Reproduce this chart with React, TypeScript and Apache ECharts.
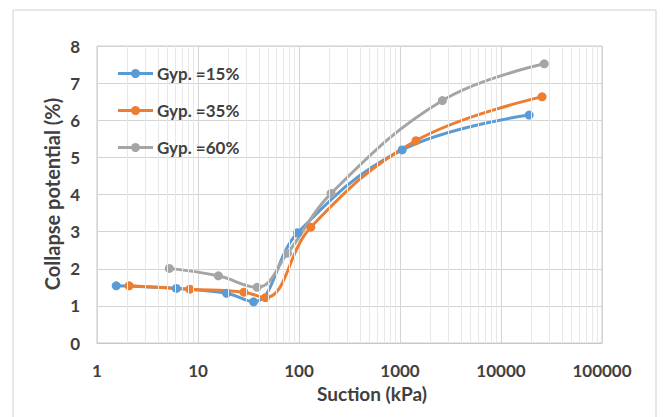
import React, { useEffect, useRef } from "react";
import * as echarts from "echarts";

const seriesNames = ["Gyp. =15%", "Gyp. =35%", "Gyp. =60%"];
const seriesColors = ["#5B9BD5", "#ED7D31", "#A5A5A5"];

const gyp15X = [1.55, 6.1, 19.2, 35.5, 97, 1050, 19000];
const gyp15Y = [1.54, 1.47, 1.34, 1.11, 2.97, 5.2, 6.14];
const gyp35X = [2.08, 8.3, 28.5, 46.5, 131, 1440, 25500];
const gyp35Y = [1.54, 1.45, 1.37, 1.22, 3.12, 5.45, 6.63];
const gyp60X = [5.2, 15.9, 38.5, 77, 208, 2630, 26800];
const gyp60Y = [2.01, 1.81, 1.5, 2.42, 4.03, 6.53, 7.52];

const xsAll = [gyp15X, gyp35X, gyp60X];
const ysAll = [gyp15Y, gyp35Y, gyp60Y];

const minorX: number[] = [];
for (let d = 1; d < 100000; d *= 10) {
  for (let m = 2; m <= 9; m++) minorX.push(m * d);
}

export default function App() {
  const ref = useRef<HTMLDivElement>(null);
  useEffect(() => {
    if (!ref.current) return;
    const chart = echarts.init(ref.current, null, { renderer: "svg" });
    const txt = "#404040";
    const font = "Lato, 'Open Sans', sans-serif";
    const lineSeries = seriesNames.map((name, i) => ({
      name,
      type: "line",
      data: xsAll[i].map((x, j) => [x, ysAll[i][j]]),
      smooth: 0.4,
      symbol: "circle",
      symbolSize: 9,
      showSymbol: true,
      z: 3,
      lineStyle: { color: seriesColors[i], width: 3, type: "solid" },
      itemStyle: { color: seriesColors[i] },
    }));
    const legendGraphics: any[] = [];
    seriesNames.forEach((name, i) => {
      const cy = 73.5 + i * 37;
      legendGraphics.push(
        {
          type: "line",
          z: 10,
          shape: { x1: 118, y1: cy, x2: 153, y2: cy },
          style: { stroke: seriesColors[i], lineWidth: 3 },
          silent: true,
        },
        {
          type: "circle",
          z: 11,
          shape: { cx: 135.5, cy, r: 4.5 },
          style: { fill: seriesColors[i] },
          silent: true,
        },
        {
          type: "text",
          z: 11,
          x: 157,
          y: cy,
          style: {
            text: name,
            fontSize: 17,
            fontWeight: "bold",
            fill: txt,
            fontFamily: font,
            textAlign: "left",
            textVerticalAlign: "middle",
          },
        }
      );
    });
    const option: any = {
      animation: false,
      backgroundColor: "#ffffff",
      grid: {
        left: 97,
        top: 46,
        right: 61,
        bottom: 74,
        show: true,
        borderColor: "#c8c8c8",
        borderWidth: 1,
        containLabel: false,
        outerBoundsMode: "none",
      },
      xAxis: {
        type: "log",
        logBase: 10,
        min: 1,
        max: 100000,
        axisLine: { show: true, lineStyle: { color: "#c8c8c8" } },
        axisTick: { show: false },
        splitLine: { show: true, lineStyle: { color: "#d4d4d4", width: 1 } },
        axisLabel: {
          margin: 19,
          fontSize: 17,
          fontWeight: "bold",
          color: txt,
          fontFamily: font,
          formatter: (v: number) => String(Math.round(v)),
        },
      },
      yAxis: {
        type: "value",
        min: 0,
        max: 8,
        interval: 1,
        axisLine: { show: false },
        axisTick: { show: false },
        splitLine: { show: true, lineStyle: { color: "#d4d4d4", width: 1 } },
        axisLabel: {
          margin: 17,
          fontSize: 17,
          fontWeight: "bold",
          color: txt,
          fontFamily: font,
        },
      },
      graphic: [
        {
          type: "rect",
          shape: { x: 13, y: 10, width: 643, height: 430 },
          style: { fill: "none", stroke: "#d0d0d0", lineWidth: 1 },
          silent: true,
          z: -1,
        },
        {
          type: "text",
          x: 372,
          y: 393,
          style: {
            text: "Suction (kPa)",
            fontSize: 19,
            fontWeight: "bold",
            fill: txt,
            fontFamily: font,
            textAlign: "center",
            textVerticalAlign: "middle",
          },
        },
        {
          type: "text",
          x: 52,
          y: 194,
          rotation: Math.PI / 2,
          style: {
            text: "Collapse potential (%)",
            fontSize: 20,
            fontWeight: "bold",
            fill: txt,
            fontFamily: font,
            textAlign: "center",
            textVerticalAlign: "middle",
          },
        },
        ...legendGraphics,
      ],
      series: [
        {
          name: "_minor",
          type: "line",
          data: [],
          z: 1,
          silent: true,
          markLine: {
            silent: true,
            symbol: "none",
            label: { show: false },
            lineStyle: { color: "#e8e8e8", width: 1, type: "solid" },
            data: minorX.map((v) => ({ xAxis: v })),
          },
        },
        ...lineSeries,
      ],
    };
    chart.setOption(option);
    return () => chart.dispose();
  }, []);
  return (
    <div
      ref={ref}
      style={{ position: "fixed", left: 0, top: 0, width: 663, height: 417 }}
    />
  );
}
